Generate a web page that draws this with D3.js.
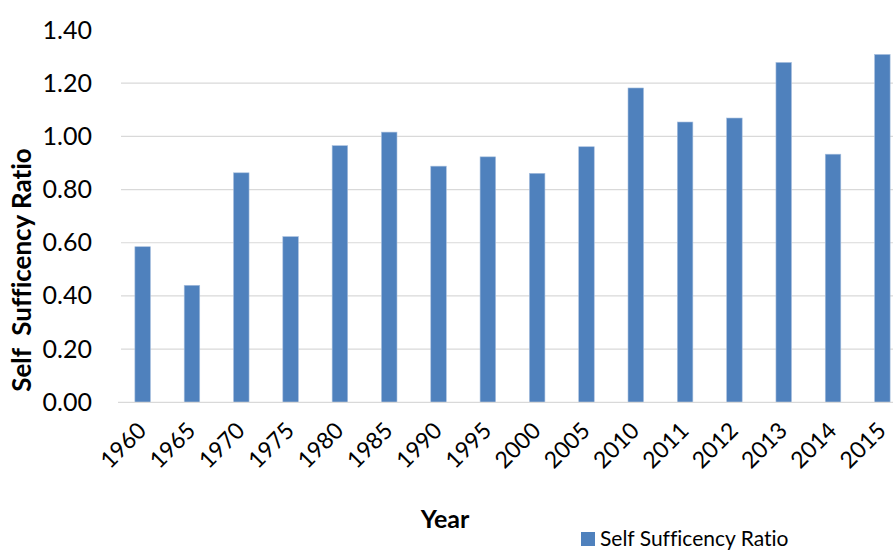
<!DOCTYPE html>
<html>
<head>
<meta charset="utf-8">
<script src="https://cdn.jsdelivr.net/npm/d3@7"></script>
<style>
  body { margin: 0; background: #fff; }
  svg text { font-family: Lato, "Open Sans", sans-serif; fill: #000; font-variant-ligatures: none; }
</style>
</head>
<body>
<div id="chart"></div>
<script>
// values
var years = ['1960', '1965', '1970', '1975', '1980', '1985', '1990', '1995',
             '2000', '2005', '2010', '2011', '2012', '2013', '2014', '2015'];
var ratio = [0.585, 0.44, 0.863, 0.623, 0.965, 1.016, 0.888, 0.923,
             0.861, 0.961, 1.182, 1.054, 1.069, 1.278, 0.933, 1.308];
var yTicks = [0, 0.2, 0.4, 0.6, 0.8, 1.0, 1.2, 1.4];
var seriesName = 'Self Sufficency Ratio';

;(function () {
    var width = 893, height = 550;
    // plot area (runs past the right edge, as in the original)
    var plot = { left: 118, right: 907, top: 30, bottom: 402.3 };

    var svg = d3.select('#chart').append('svg')
        .attr('width', width)
        .attr('height', height);

    var x = d3.scaleBand()
        .domain(years)
        .range([plot.left, plot.right])
        .paddingInner(0.685)
        .paddingOuter(0.3425);

    var y = d3.scaleLinear()
        .domain([0, 1.4])
        .range([plot.bottom, plot.top]);

    // gridlines (no line at the top value)
    svg.append('g').selectAll('line')
        .data(yTicks.filter(function (t) { return t > 0 && t < 1.4; }))
        .enter().append('line')
        .attr('x1', plot.left + 3).attr('x2', plot.right)
        .attr('y1', function (d) { return y(d); })
        .attr('y2', function (d) { return y(d); })
        .attr('stroke', '#d9d9d9')
        .attr('stroke-width', 1.2);

    // y axis labels
    var yAxis = d3.axisLeft(y).tickValues(yTicks).tickFormat(d3.format('.2f')).tickSize(0).tickPadding(0);
    var gy = svg.append('g').attr('transform', 'translate(92,0)').call(yAxis);
    gy.select('.domain').remove();
    gy.selectAll('text')
        .style('font-size', '25px')
        .style('font-family', 'Lato, sans-serif')
        .attr('fill', '#000');

    // bars
    svg.append('g').selectAll('rect')
        .data(years)
        .enter().append('rect')
        .attr('x', function (d) { return x(d); })
        .attr('width', x.bandwidth())
        .attr('y', function (d, i) { return y(ratio[i]); })
        .attr('height', function (d, i) { return y(0) - y(ratio[i]); })
        .attr('fill', '#4f81bd')
        .attr('stroke', '#a7bfde')
        .attr('stroke-width', 0.6);

    // baseline
    svg.append('line')
        .attr('x1', plot.left).attr('x2', plot.right)
        .attr('y1', y(0)).attr('y2', y(0))
        .attr('stroke', '#d9d9d9')
        .attr('stroke-width', 1.2);

    // x axis labels, rotated
    svg.append('g').selectAll('text')
        .data(years)
        .enter().append('text')
        .attr('transform', function (d) {
            return 'translate(' + (x(d) + x.bandwidth() / 2 + 5) + ',432) rotate(-45)';
        })
        .attr('text-anchor', 'end')
        .style('font-size', '23px')
        .text(function (d) { return d; });

    // axis titles
    svg.append('text')
        .attr('transform', 'translate(31,270) rotate(-90)')
        .attr('text-anchor', 'middle')
        .style('font-size', '26px')
        .style('font-weight', 'bold')
        .style('white-space', 'pre')
        .text('Self  Sufficency Ratio');

    svg.append('text')
        .attr('x', 445).attr('y', 528)
        .attr('text-anchor', 'middle')
        .style('font-size', '25px')
        .style('font-weight', 'bold')
        .text('Year');

    // legend (sits at the bottom edge)
    var lg = svg.append('g').attr('transform', 'translate(581,532)');
    lg.append('rect').attr('width', 14).attr('height', 14).attr('fill', '#4f81bd');
    lg.append('text').attr('x', 19).attr('y', 14).style('font-size', '21px').text(seriesName);
})();
</script>
</body>
</html>
